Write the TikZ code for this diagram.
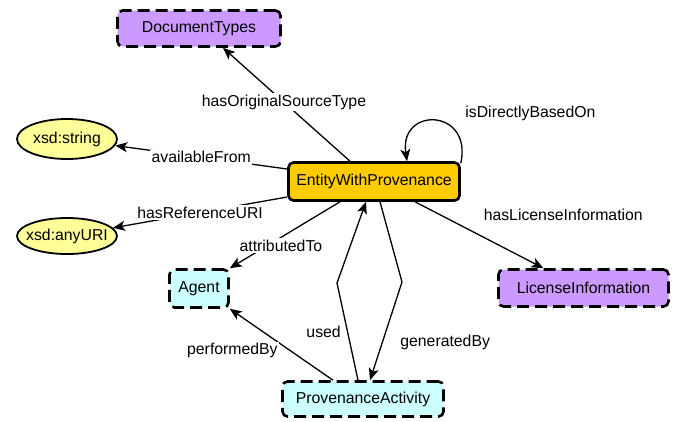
\documentclass[tikz,border=0pt]{standalone}
\usepackage{fontspec}
\setmainfont{Liberation Sans}
\usetikzlibrary{shapes.geometric,arrows.meta}
\definecolor{clsPurple}{HTML}{CC99FF}
\definecolor{clsCyan}{HTML}{CCFFFF}
\definecolor{clsGold}{HTML}{FFCC00}
\definecolor{dtYellow}{HTML}{FFFF99}
\begin{document}
\begin{tikzpicture}[x=1pt,y=-1pt,
  every node/.style={font=\fontsize{15.8}{19}\selectfont},
  cls/.style={draw, line width=2.6pt, rounded corners=5pt, dash pattern=on 12pt off 6pt, inner sep=0pt},
  purp/.style={cls, fill=clsPurple},
  cyanbox/.style={cls, fill=clsCyan},
  mainbox/.style={draw, line width=2.6pt, rounded corners=5pt, fill=clsGold, inner sep=0pt},
  dtype/.style={ellipse, draw, line width=1.8pt, fill=dtYellow, inner xsep=-12pt, inner ysep=0pt},
  rel/.style={line width=1.3pt, -{Stealth[length=12pt,width=10pt,inset=3pt]}},
  lab/.style={fill=white, inner sep=1.5pt}
]
\useasboundingbox (0,0) rectangle (684,421);

\node[purp, minimum width=163pt, minimum height=36pt] (dt) at (199,28.5) {DocumentTypes};
\node[dtype, minimum width=100pt, minimum height=40pt] (xs) at (67,139) {xsd:string};
\node[dtype, minimum width=100pt, minimum height=36pt] (xu) at (67,236) {xsd:anyURI};
\node[mainbox, minimum width=171pt, minimum height=38pt] (e) at (374,181.5) {EntityWithProvenance};
\node[cyanbox, minimum width=59pt, minimum height=38pt] (ag) at (199,288.5) {Agent};
\node[purp, minimum width=170pt, minimum height=37pt] (li) at (583.5,288) {LicenseInformation};
\node[cyanbox, minimum width=161pt, minimum height=35pt] (pa) at (363,399) {ProvenanceActivity};

\coordinate (g1) at (402,282);
\coordinate (u1) at (337,283);

\draw[rel] ([xshift=-24pt]e.north) -- ([xshift=24pt]dt.south)
  node[lab, pos=0.52] {hasOriginalSourceType};
\draw[rel] ([yshift=12.5pt]e.west) -- (xs)
  node[lab, pos=0.5] {availableFrom};
\draw[rel] ([yshift=-15.5pt]e.west) -- (xu)
  node[lab, pos=0.5] {hasReferenceURI};
\draw[rel] ([xshift=-34pt]e.south) -- (ag.north east)
  node[lab, pos=0.536, yshift=-8pt] {attributedTo};
\draw[rel] ([xshift=41pt]e.south) -- ([xshift=-40pt]li.north)
  node[lab, pos=0.5, xshift=84pt, yshift=20.5pt] {hasLicenseInformation};
\draw[rel] ([yshift=-2pt]e.north east) .. controls +(12,-55) and +(-8,-55) .. ([xshift=33pt]e.north)
  node[lab, pos=0.5, xshift=95pt, yshift=8pt] {isDirectlyBasedOn};
\draw[rel] ([xshift=6pt]e.south) -- (g1) -- ([xshift=7pt]pa.north)
  node[lab, pos=0.62, xshift=63pt] {generatedBy};
\draw[rel] ([xshift=-5pt]pa.north) -- (u1)
  node[lab, pos=0.495, xshift=-24pt] {used}
  -- ([xshift=-8pt]e.south);
\draw[rel] ([xshift=-30pt]pa.north) -- (ag.south east)
  node[lab, pos=0.5, xshift=-49pt, yshift=-6pt] {performedBy};
\end{tikzpicture}
\end{document}
